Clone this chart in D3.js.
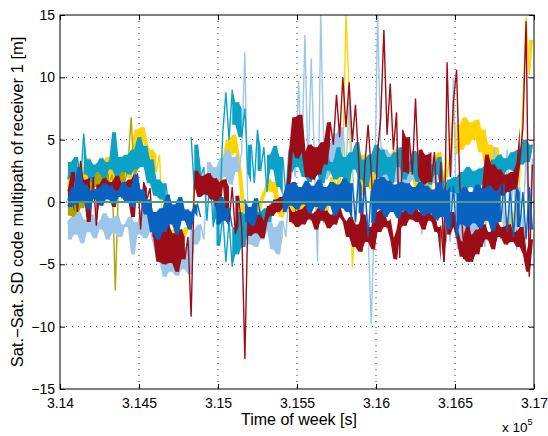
<!DOCTYPE html>
<html>
<head>
<meta charset="utf-8">
<script src="https://cdn.jsdelivr.net/npm/d3@7"></script>
<style>
  body { margin: 0; background: #fff; }
  svg { display: block; font-family: "Liberation Sans", Arial, Helvetica, sans-serif; }
</style>
</head>
<body>
<svg id="chart" width="548" height="436"></svg>
<script>
// time of week [s]; every series is sampled once every 20 s from its start time
const dt = 20;
const xTicks = [314000, 314500, 315000, 315500, 316000, 316500, 317000];
const yTicks = [-15, -10, -5, 0, 5, 10, 15];

const yellowStart = 314050;
const yellowVals = [
  1.2, 3.0, 1.6, 3.4, 1.0, 2.8, 1.8, 3.5, 1.4, 2.6,
  2.0, 3.2, 1.5, 3.6, 1.8, 2.9, 1.3, 3.3, 2.2, 3.6,
  1.9, 4.0, 5.8, 4.4, 6.0, 4.8, 2.6, 4.2, 2.4, 3.8,
  -2.4, -3.2, -2.6, -3.0, -2.2, -3.3, -2.5, -2.8, -2.0, -2.4,
  1.4, 2.2, 1.2, 1.8, 0.8, 2.0, 1.0, 1.6, 1.5, 2.0,
  3.6, 5.0, 3.8, 5.4, 4.0, 2.0, -1.0, -2.2, -2.6, -2.0,
  -2.5, -0.5, 0.4, 1.0, 1.8, 0.8, 1.6, -0.8, -1.2, 0.6,
  -0.8, 1.2, -1.0, 0.8, -0.6, 1.0, -1.2, 0.5, -0.4, 1.4,
  -0.8, 0.9, -1.1, 0.6, 2.0, 0.4, 1.5, 3.0, 15.0, 9.0,
  -5.3, -1.5, 3.5, 0.5, 3.8, 1.2, 3.2, 0.8, 3.6, 1.5,
  3.0, 1.0, 3.8, 1.5, 4.2, 2.0, 3.4, 1.2, 4.6, 1.8,
  3.2, 0.6, 3.9, 1.4, 3.0, 1.0, 3.5, 2.2, 4.0, 1.6,
  2.0, 4.0, 8.3, 3.8, 6.2, 4.2, 6.8, 4.6, 6.4, 5.0,
  6.6, 4.0, 5.8, 2.6, 4.6, 2.8, 4.4, 3.0, -1.5, -2.8,
  -1.2, -3.0, -0.8, 2.0, 8.0, 14.8, 10.2, 13.0
];

const oliveStart = 314050;
const oliveVals = [
  -0.2, -1.1, 0.3, -1.3, 0.8, -0.5, 1.5, 0.2, 1.8, 1.2,
  2.4, 1.3, 2.6, 1.5, 2.2, -7.1, 1.4, 2.5, 1.6, 2.8,
  6.8, 2.0, 2.6
];

const lightBlueStart = 314050;
const lightBlueVals = [
  -1.5, -3.0, -1.2, -2.6, -0.8, -3.3, -1.4, -2.4, -1.0, -2.9,
  -1.6, -2.2, -0.9, -3.0, -1.3, -2.5, -1.1, -2.8, -1.8, -2.0,
  -1.2, -4.2, -1.6, -2.6, -0.6, -2.9, -1.0, -2.4, -3.5, -4.8,
  -4.4, -6.0, -4.8, -5.6, -4.2, -5.9, -4.6, -5.4, -3.6, -5.8,
  -2.2, -3.4, -1.8, -3.0, 1.6, 3.2, 1.2, 2.8, 1.8, 3.5,
  2.0, 4.2, 1.4, 3.6, 2.4, 4.0, 12.0, -1.6, -3.4, -2.0,
  -3.6, -1.4, -3.0, -2.2, -1.0, -3.8, -2.0, -4.2, -1.5, -2.8,
  1.2, 3.5, 2.0, 9.7, 3.0, 13.4, 2.4, 11.5, 3.5, -4.8,
  15.0, 4.0, 1.8, 4.6, 2.2, 5.5, 3.0, 6.0, 2.5, 8.0,
  3.0, -1.5, 2.4, -3.0, 1.2, -2.5, -9.8, -1.0, 15.0, 4.5,
  2.0, 4.2, 1.2, 3.8, 1.6, 4.4, 1.0, 3.5, 1.4, 4.0,
  1.8, 3.2, -2.6, 2.8, 1.2, 4.0, 1.5, 3.0, 0.8, -3.5,
  -1.0, -3.2, 10.0, -1.5, -3.8, -1.2, -4.2, -1.8, -3.5, -1.0,
  -4.0, -2.2, -3.6, 3.5, -2.8, 4.4, -1.5, 3.8, -3.0, 4.2,
  -2.0, 2.6, -3.8, 1.2, -2.5, 4.0, -1.8, 3.5
];

const cyanStart = 314050;
const cyanVals = [
  1.8, 3.2, 2.0, 3.6, 1.5, 5.5, 2.2, 3.4, 1.6, 3.0,
  2.4, 3.5, 1.8, 3.2, 2.6, 5.6, 2.0, 3.6, 2.4, 3.8,
  2.2, 4.2, 2.6, 5.2, 2.8, 4.5, 1.5, 3.4, 0.5, 1.8,
  0.2, 1.5, -0.5, null, null, null, null, null, null, 5.2,
  1.0, 4.6, 2.0, 2.8, -1.5, 2.2, -2.0, 1.5, -1.2, 5.5,
  8.8, 5.0, 9.0, 6.2, 8.0, 5.2, 7.5, 2.2, 4.6, 1.5,
  5.8, 2.5, 4.4, 0.8, 3.8, 2.6, 4.5, 1.2, 3.6, 0.5,
  4.2, 2.4, 4.6, 2.8, 4.0, 2.0, 3.8, 1.6, 4.2, 2.2,
  3.5, 1.5, 4.0, 2.5, 3.2, 1.8, 4.4, 2.0, 3.6, 1.4,
  4.0, 2.6, 4.8, 1.8, 3.4, 1.2, 3.8, 2.4, 4.6, 1.9,
  4.2, 2.2, 3.6, 1.5, 4.0, 2.8, 4.4, 1.8, 3.2, 2.4,
  4.1, 1.6, 3.8, 2.0, 3.4, 1.4, 3.0, 2.2, 3.6, 1.0,
  0.5, 1.8, 0.8, 2.0, 0.6, 2.4, 0.9, 2.8, 1.2, 2.5,
  0.8, 2.7, 1.4, 3.0, 1.6, 3.4, 2.0, 3.8, 2.2, 3.5,
  2.6, 4.0, 2.4, 4.2, 3.0, 5.0, 3.2, 4.6
];

const cyanLowStart = 314990;
const cyanLowVals = [
  -0.5, -3.5, -1.0, -4.8, -1.5, -5.2, -2.0, -4.2, -0.8, -3.6,
  -1.0, -2.2, -0.4, -2.0, -0.8, -2.4, -0.5, -1.6, -0.3
];

const darkRedStart = 314050;
const darkRedVals = [
  1.0, 0.3, 2.4, -0.8, 3.3, 0.6, 1.8, -1.6, 2.0, -1.9,
  1.4, 0.2, 1.9, 0.5, 1.6, -0.4, 2.1, 0.7, 1.5, 0.3,
  1.8, -1.2, 2.3, -2.2, 1.6, 0.2, 1.1, -2.8, -1.5, -4.8,
  -2.2, -5.0, -1.8, -4.9, -2.5, -5.6, -2.2, -4.6, -2.8, -9.2,
  1.3, 2.5, 0.4, 2.1, 0.6, 2.3, 0.2, 1.9, -0.6, 1.6,
  1.8, -1.6, 1.2, -2.6, 0.5, -2.0, -12.6, -0.6, -2.7, -1.2,
  -2.5, -1.0, -2.9, -1.5, -0.3, -1.1, 0.2, -0.8, 0.4, -0.5,
  0.6, 4.2, 6.8, 3.5, 7.0, 4.0, 2.0, 4.6, 1.8, 4.4,
  2.2, 4.8, 3.0, 6.4, 4.6, 8.6, 5.2, 10.0, 6.0, 9.6,
  4.8, 7.8, 3.4, -2.4, 3.0, 6.2, 2.5, -3.2, 4.0, 6.8,
  13.8, 5.4, 9.5, 4.2, 7.2, -4.5, 5.8, 2.4, 5.2, 2.2,
  8.3, 2.0, 4.2, 1.4, 3.8, 1.6, 4.0, -1.5, 3.2, -4.8,
  11.2, 2.0, 8.0, 10.6, 1.5, -2.8, -4.6, -2.0, -4.8, -3.0,
  -4.2, -2.4, 1.0, 3.8, 1.2, 3.0, 0.8, 2.6, 0.5, 2.2,
  0.8, 2.4, 1.0, 3.2, 6.0, 14.5, -6.0, 3.0
];

// second dark red pair, below zero in the second half
const darkRedLowStart = 315450;
const darkRedLowVals = [
  -0.4, -1.6, -0.8, -2.0, -0.6, -1.8, -0.3, -1.4, -0.9, -2.2,
  -0.5, -1.5, -0.7, -2.1, -1.0, -1.8, -0.4, -1.2, -1.6, -2.8,
  -1.2, -3.6, -1.8, -4.0, -1.0, -3.2, -2.0, -3.8, -0.8, -2.4,
  -0.6, -2.0, -1.5, -3.0, -4.6, -2.2, -0.8, -1.9, -0.5, -1.4,
  -0.3, -1.6, -0.8, -2.2, -0.6, -1.5, -1.0, -2.4, -2.0, -4.8,
  -1.0, -2.6, -0.8, -2.0, -3.0, -4.4, -3.2, -4.8, -2.6, -4.0,
  -2.2, -3.6, -1.8, -3.0, -2.4, -3.8, -1.6, -2.8, -2.0, -3.4,
  -1.8, -3.2, -2.4, -3.6, -2.0, -4.2, -5.6, -3.0
];

const blueStart = 314050;
const blueVals = [
  0.3, -0.4, 1.2, -0.2, 2.8, 0.1, 1.4, -0.6, 0.9, 0.2,
  1.1, -0.3, 1.5, 0.2, 1.3, -0.2, 0.9, 0.4, 1.6, 0.0,
  1.2, -0.4, 2.2, 0.1, 1.0, -1.0, 0.2, -2.4, -0.8, -3.0,
  -0.5, -2.4, 0.6, -1.8, -0.2, -2.6, 0.4, -1.5, -0.6, -2.2,
  -0.8, -0.2, -1.2, null, null, null, null, -0.2, -1.8, 0.4,
  -1.5, -0.5, -2.0, null, null, null, 0.2, -1.6, -0.4, -1.9,
  0.3, -1.2, null, null, null, null, null, null, 0.5, -0.8,
  1.4, -0.3, 1.6, -0.6, 1.2, -0.2, 1.7, -0.9, 1.3, -0.4,
  1.8, -0.7, 1.2, -0.3, 1.6, -1.1, 1.4, -0.5, 1.9, -0.8,
  1.5, -1.6, 2.1, -0.9, 1.3, -2.8, 0.9, -1.7, 1.8, -0.6,
  2.0, -1.2, 1.7, -0.8, 1.4, -1.3, 1.6, -0.7, 1.5, -1.0,
  1.2, -0.6, 1.6, -1.1, 1.3, -0.9, 1.0, -1.4, 1.6, -1.2,
  0.9, -2.2, 1.3, -2.9, 0.7, -1.8, 1.2, -2.0, 0.8, -1.7,
  1.4, -2.1, 1.1, -1.5, 1.3, -2.3, 0.9, -1.6, 1.5, -2.4,
  1.0, -2.8, 1.3, -2.0, 0.8, -3.0, 1.2, -2.2
];

// reference pair: sits on zero, sampled every 500 s
const refStart = 314050;
const refDt = 500;
const refVals = [0.0, 0.0, 0.0, 0.0, 0.0, 0.0, 0.0];

const series = [
  { start: yellowStart, step: dt, vals: yellowVals, color: '#ffd400', band: true },
  { start: oliveStart, step: dt, vals: oliveVals, color: '#aaa500', band: true },
  { start: lightBlueStart, step: dt, vals: lightBlueVals, color: '#9cc6ea', band: true },
  { start: cyanStart, step: dt, vals: cyanVals, color: '#0ca2c8', band: true },
  { start: cyanLowStart, step: dt, vals: cyanLowVals, color: '#0ca2c8', band: true },
  { start: darkRedLowStart, step: dt, vals: darkRedLowVals, color: '#9c0d17', band: true },
  { start: darkRedStart, step: dt, vals: darkRedVals, color: '#9c0d17', band: true },
  { start: blueStart, step: dt, vals: blueVals, color: '#0a62c0', band: true },
  { start: refStart, step: refDt, vals: refVals, color: '#4a9c88', band: false }
];

const svg = d3.select('#chart');
const margin = { top: 15, right: 14, bottom: 47, left: 60 };
const width = 548 - margin.left - margin.right;
const height = 436 - margin.top - margin.bottom;

svg.append('rect').attr('width', 548).attr('height', 436).attr('fill', '#fff');

const x = d3.scaleLinear().domain([314000, 317000]).range([0, width]);
const y = d3.scaleLinear().domain([-15, 15]).range([height, 0]);

const g = svg.append('g').attr('transform', `translate(${margin.left},${margin.top})`);

// dotted grid
g.append('g').selectAll('line')
  .data(xTicks.slice(1, -1))
  .join('line')
  .attr('x1', d => x(d)).attr('x2', d => x(d))
  .attr('y1', 0).attr('y2', height)
  .attr('stroke', '#333').attr('stroke-width', 1).attr('stroke-dasharray', '1,5');

g.append('g').selectAll('line')
  .data(yTicks.slice(1, -1))
  .join('line')
  .attr('x1', 0).attr('x2', width)
  .attr('y1', d => y(d)).attr('y2', d => y(d))
  .attr('stroke', '#333').attr('stroke-width', 1).attr('stroke-dasharray', '1,5');

svg.append('clipPath').attr('id', 'plotclip')
  .append('rect').attr('width', width).attr('height', height);

const line = d3.line()
  .defined(d => d.v !== null)
  .x(d => x(d.t))
  .y(d => y(d.v));

// dense noise between neighbouring samples is drawn as a filled band;
// big jumps (outliers, switching levels) stay as plain line strokes
const maxFill = 3.6;
const band = d3.area()
  .defined(d => d.v !== null && d.next !== null && Math.abs(d.v - d.next) <= maxFill)
  .x(d => x(d.t))
  .y0(d => y(Math.min(d.v, d.next)))
  .y1(d => y(Math.max(d.v, d.next)));

const lines = g.append('g').attr('clip-path', 'url(#plotclip)');
series.forEach(s => {
  const pts = s.vals.map((v, i) => ({
    t: s.start + i * s.step,
    v,
    next: i + 1 < s.vals.length ? s.vals[i + 1] : v
  }));
  if (s.band) {
    lines.append('path')
      .datum(pts)
      .attr('d', band)
      .attr('fill', s.color)
      .attr('stroke', 'none');
  }
  lines.append('path')
    .datum(pts)
    .attr('d', line)
    .attr('fill', 'none')
    .attr('stroke', s.color)
    .attr('stroke-width', s.band ? 1.4 : 1.8);
});

// axes, ticks pointing inwards on all four sides
const fmtX = d => String(+(d / 1e5).toFixed(3));
const fmtY = d3.format('d');

g.append('g')
  .attr('transform', `translate(0,${height})`)
  .call(d3.axisBottom(x).tickValues(xTicks).tickFormat(fmtX).tickSizeInner(-5).tickSizeOuter(0).tickPadding(9));
g.append('g')
  .call(d3.axisLeft(y).tickValues(yTicks).tickFormat(fmtY).tickSizeInner(-5).tickSizeOuter(0).tickPadding(5));
g.append('g')
  .call(d3.axisTop(x).tickValues(xTicks).tickFormat('').tickSizeInner(-5).tickSizeOuter(0));
g.append('g')
  .attr('transform', `translate(${width},0)`)
  .call(d3.axisRight(y).tickValues(yTicks).tickFormat('').tickSizeInner(-5).tickSizeOuter(0));

g.selectAll('.domain').remove();
g.selectAll('.tick line').attr('stroke', '#000');
g.selectAll('.tick text').attr('fill', '#000').style('font-size', '14px')
  .style('font-family', '"Liberation Sans", Arial, sans-serif');

g.append('rect')
  .attr('width', width).attr('height', height)
  .attr('fill', 'none').attr('stroke', '#000').attr('stroke-width', 1);

// labels
svg.append('text')
  .attr('x', margin.left + width / 2 + 2).attr('y', 425)
  .attr('text-anchor', 'middle')
  .style('font-size', '16px')
  .text('Time of week [s]');

const mult = svg.append('text')
  .attr('x', 502).attr('y', 432)
  .style('font-size', '13.5px');
mult.append('tspan').text('x 10');
mult.append('tspan').attr('dy', -7).style('font-size', '9px').text('5');

svg.append('text')
  .attr('transform', `translate(23,${margin.top + height / 2}) rotate(-90)`)
  .attr('text-anchor', 'middle')
  .style('font-size', '16.5px')
  .text('Sat.\u2212Sat. SD code multipath of receiver 1 [m]');
</script>
</body>
</html>
